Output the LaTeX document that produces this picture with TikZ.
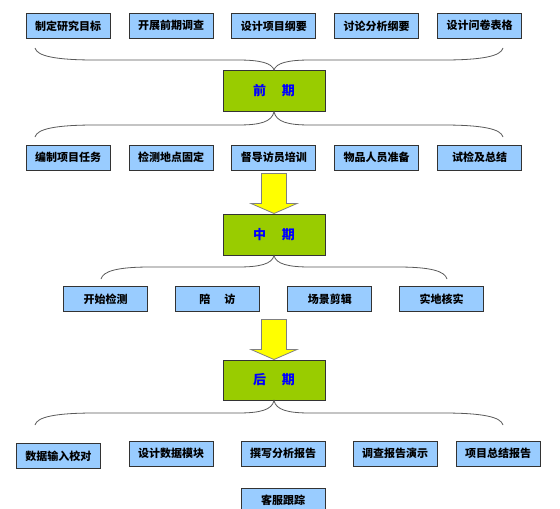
\documentclass[tikz,border=0pt]{standalone}
\usepackage{fontspec}
\setmainfont{Noto Sans CJK SC}
\usetikzlibrary{calc}
\definecolor{boxblue}{HTML}{99CCFF}
\definecolor{phasegreen}{HTML}{99CC00}
\definecolor{arrowyellow}{HTML}{FFFF00}
\definecolor{edgegray}{HTML}{333333}
\definecolor{bracegray}{HTML}{595959}
\definecolor{phaseblue}{HTML}{0000FF}
\definecolor{arrowedge}{HTML}{808080}
\tikzset{
 taskbox/.style={draw=edgegray, line width=1pt, fill=boxblue, minimum width=84pt, minimum height=25pt, inner sep=0pt, font=\bfseries\fontsize{11}{12}\selectfont},
 phasebox/.style={draw=edgegray, line width=1pt, fill=phasegreen, minimum width=102pt, minimum height=40.5pt, inner sep=0pt, text=phaseblue, font=\bfseries\fontsize{13}{15}\selectfont},
 brc/.style={draw=bracegray, line width=0.8pt},
 blockarrow/.style={draw=arrowedge, line width=0.8pt, fill=arrowyellow, line join=miter}
}
\begin{document}
\begin{tikzpicture}[x=1pt,y=-1pt]
\useasboundingbox (0,0) rectangle (560,509);
% row 1
\node[taskbox] (a1) at (68.2,25.8) {制定研究目标};
\node[taskbox] (a2) at (171.2,25.8) {开展前期调查};
\node[taskbox] (a3) at (273.8,25.8) {设计项目纲要};
\node[taskbox] (a4) at (376.5,25.8) {讨论分析纲要};
\node[taskbox] (a5) at (479.5,25.8) {设计问卷表格};
% phase 1
\node[phasebox] (qian) at (274,90.8) {前\hspace{16pt}期};
% row 2
\node[taskbox] (b1) at (68.2,157.5) {编制项目任务};
\node[taskbox] (b2) at (171.2,157.5) {检测地点固定};
\node[taskbox] (b3) at (273.8,157.5) {督导访员培训};
\node[taskbox] (b4) at (376.5,157.5) {物品人员准备};
\node[taskbox] (b5) at (479.5,157.5) {试检及总结};
% phase 2
\node[phasebox, minimum height=41pt] (zhong) at (274,234.5) {中\hspace{16pt}期};
% row 3
\node[taskbox] (c1) at (105.5,299.2) {开始检测};
\node[taskbox] (c2) at (217.3,299.2) {陪\hspace{14pt}访};
\node[taskbox] (c3) at (329.9,299.2) {场景剪辑};
\node[taskbox] (c4) at (441.7,299.2) {实地核实};
% phase 3
\node[phasebox, minimum height=40pt] (hou) at (274,380) {后\hspace{16pt}期};
% row 4
\node[taskbox] (d1) at (58.3,456) {数据输入校对};
\node[taskbox] (d2) at (171,453.5) {设计数据模块};
\node[taskbox] (d3) at (283,453.5) {撰写分析报告};
\node[taskbox] (d4) at (395,453.5) {调查报告演示};
\node[taskbox] (d5) at (498,453.5) {项目总结报告};
\node[taskbox] (d6) at (283,500.5) {客服跟踪};
% brace end points
\coordinate (e1l) at (35,48);   \coordinate (e1r) at (503,48);
\coordinate (e2l) at (35,137);  \coordinate (e2r) at (503,137);
\coordinate (e3l) at (101,279); \coordinate (e3r) at (447,279);
\coordinate (e4l) at (35,425);  \coordinate (e4r) at (503,425);
% braces
\draw[brc] (e1l) .. controls (37,56) and (55,60) .. (95,60) -- (238,60)
  .. controls (260,60) and (272,63) .. (qian.north)
  .. controls (276,63) and (288,60) .. (310,60) -- (443,60)
  .. controls (483,60) and (501,56) .. (e1r);
\draw[brc] (e2l) .. controls (37,129) and (55,125) .. (95,125) -- (238,125)
  .. controls (260,125) and (272,122) .. (qian.south)
  .. controls (276,122) and (288,125) .. (310,125) -- (443,125)
  .. controls (483,125) and (501,129) .. (e2r);
\draw[brc] (e3l) .. controls (103,271) and (118,267) .. (150,267) -- (238,267)
  .. controls (260,267) and (272,264) .. (zhong.south)
  .. controls (276,264) and (288,267) .. (310,267) -- (398,267)
  .. controls (430,267) and (445,271) .. (e3r);
\draw[brc] (e4l) .. controls (37,417) and (55,413) .. (95,413) -- (238,413)
  .. controls (260,413) and (272,410) .. (hou.south)
  .. controls (276,410) and (288,413) .. (310,413) -- (443,413)
  .. controls (483,413) and (501,417) .. (e4r);
% block arrows
\draw[blockarrow] ($(zhong.north)+(-12.5,-40)$) -- ($(zhong.north)+(12.5,-40)$)
  -- ($(zhong.north)+(12.5,-10)$) -- ($(zhong.north)+(23,-10)$) -- (zhong.north)
  -- ($(zhong.north)+(-23,-10)$) -- ($(zhong.north)+(-12.5,-10)$) -- cycle;
\draw[blockarrow] ($(hou.north)+(-12.5,-40)$) -- ($(hou.north)+(12.5,-40)$)
  -- ($(hou.north)+(12.5,-10)$) -- ($(hou.north)+(23,-10)$) -- (hou.north)
  -- ($(hou.north)+(-23,-10)$) -- ($(hou.north)+(-12.5,-10)$) -- cycle;
\end{tikzpicture}
\end{document}
